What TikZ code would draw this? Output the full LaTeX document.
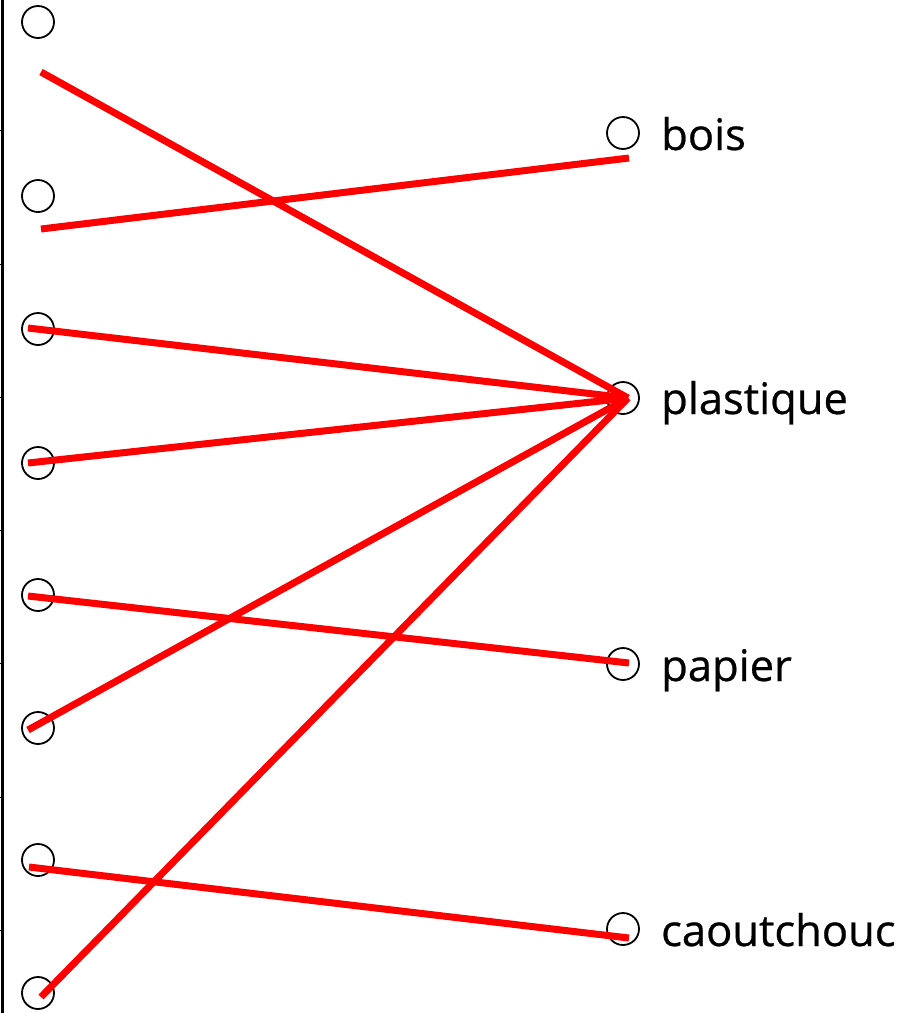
\documentclass[tikz,border=0pt]{standalone}
\usepackage{fontspec}
\setmainfont{Open Sans}
\newfontfamily\labelfont[FakeBold=0.6]{Open Sans}
\usepackage{tikz}
\usetikzlibrary{positioning, arrows.meta}
\definecolor{LinkColor}{RGB}{255,0,0}
\tikzstyle{dot} = [circle, draw=black, line width=1.8pt, minimum size=32pt, inner sep=0pt]
\tikzstyle{link} = [LinkColor, line width=7pt]
\tikzstyle{word} = [anchor=base west, inner sep=0pt, font=\labelfont\fontsize{43.5}{43.5}\selectfont]

\begin{document}
\begin{tikzpicture}[x=1pt, y=-1pt]
            \useasboundingbox (0,0) rectangle (917,1013);
            % Margin rule
            \draw[line width=2.5pt] (2.5,0) -- (2.5,1013);
            \foreach \t in {130,264,397,530,663,797,930}
                \draw[line width=1pt] (0,\t) -- (2.5,\t);

            % Left column
            \node[dot] (l1) at (38,22) {};
            \node[dot] (l2) at (38,196) {};
            \node[dot] (l3) at (38,329) {};
            \node[dot] (l4) at (38,463) {};
            \node[dot] (l5) at (38,595) {};
            \node[dot] (l6) at (38,728) {};
            \node[dot] (l7) at (38,860) {};
            \node[dot] (l8) at (38,993) {};

            % Right column
            \node[dot] (bois) at (623,133) {};
            \node[dot] (plastique) at (623,398) {};
            \node[dot] (papier) at (623,664) {};
            \node[dot] (caout) at (623,929) {};
            \node[word] (tbois) at (661,150) {bois};
            \node[word] (tplastique) at (661,414) {plastique};
            \node[word] (tpapier) at (661,681) {papier};
            \node[word] (tcaout) at (661,946) {caoutchouc};

            % Line ends
            \coordinate (s1) at (41,72);
            \coordinate (s2) at (41,229);
            \coordinate (s3) at (28,328);
            \coordinate (s4) at (28,463);
            \coordinate (s5) at (28,596);
            \coordinate (s6) at (28,730);
            \coordinate (s7) at (29,867);
            \coordinate (s8) at (41,997);
            \coordinate (hub) at (628,398);
            \coordinate (eb) at (629,158);
            \coordinate (ep) at (629,663);
            \coordinate (ec) at (629,938);

            % Links
            \draw[link] (s1) -- (hub);
            \draw[link] (s2) -- (eb);
            \draw[link] (s3) -- (hub);
            \draw[link] (s4) -- (hub);
            \draw[link] (s5) -- (ep);
            \draw[link] (s6) -- (hub);
            \draw[link] (s7) -- (ec);
            \draw[link] (s8) -- (hub);
        \end{tikzpicture}
\end{document}
